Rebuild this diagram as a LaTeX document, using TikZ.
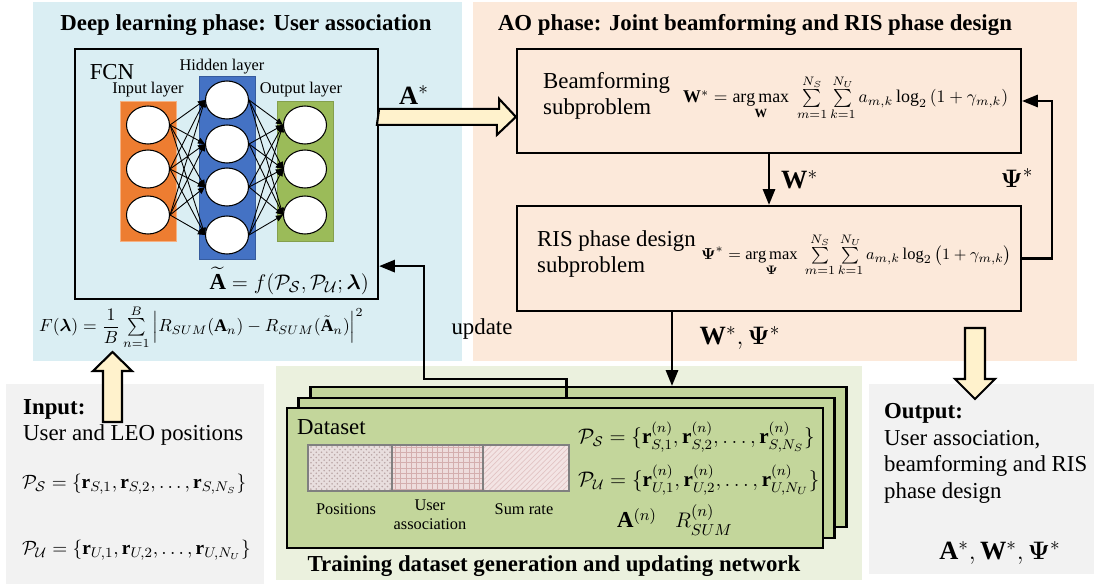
\documentclass[tikz,border=0pt]{standalone}
\usepackage{amsmath}
\usepackage{amssymb}
\usepackage{fontspec}
\setmainfont{Liberation Serif}
\usepackage{tikz}
\usepackage{xcolor}
\usetikzlibrary{calc,arrows.meta,shapes,patterns,positioning}

\definecolor{dlblue}{HTML}{DAEEF3}
\definecolor{aopeach}{HTML}{FCE9DA}
\definecolor{trgreen}{HTML}{EBF1DE}
\definecolor{iogray}{HTML}{F2F2F2}
\definecolor{cardgreen}{HTML}{C3D69B}
\definecolor{arrowfill}{HTML}{FFF2CC}
\definecolor{inorange}{HTML}{ED7D31}
\definecolor{hidblue}{HTML}{4472C4}
\definecolor{outgreen}{HTML}{9BBB59}
\definecolor{barA}{HTML}{E8DEDE}
\definecolor{barB}{HTML}{EEDCDC}
\definecolor{barC}{HTML}{F3E4E4}
\definecolor{dotA}{HTML}{B9A5A5}
\definecolor{gridB}{HTML}{D4AEAE}
\definecolor{lineC}{HTML}{E2C4C4}

\tikzset{
neuron/.style={ellipse, draw, line width=0.6pt, fill=white, minimum width=0.86cm, minimum height=0.76cm, inner sep=0pt},
link/.style={line width=0.5pt, -{Stealth[length=4pt,width=3.5pt,inset=0pt]}},
flow/.style={line width=1.2pt, -{Stealth[length=9pt,width=7pt,inset=0pt]}},
fatarr/.style={draw, line width=1.2pt, fill=arrowfill, line join=miter},
procbox/.style={draw, line width=1.3pt, minimum width=10.08cm},
card/.style={draw, line width=1.3pt, fill=cardgreen, minimum width=10.72cm, minimum height=2.8cm},
big/.style={font=\fontsize{13}{15.2}\selectfont},
eq/.style={font=\fontsize{11}{14}\selectfont, inner sep=1pt},
opt/.style={font=\fontsize{10.2}{12}\selectfont, inner sep=1pt},
small/.style={font=\fontsize{9.3}{11}\selectfont},
lbl/.style={font=\fontsize{15}{18}\selectfont},
ptitle/.style={font=\fontsize{13}{15.6}\selectfont\bfseries}
}

\begin{document}
\begin{tikzpicture}[x=0.02cm, y=-0.02cm]
\useasboundingbox (0,0) rectangle (1096,584);
\fill[dlblue] (33,2) rectangle (462,361);
\fill[aopeach] (473,2) rectangle (1077,361);
\fill[trgreen] (276,366) rectangle (862,580);
\fill[iogray] (6,384) rectangle (264,584);
\fill[iogray] (869,384) rectangle (1094,574);
\node[ptitle] (dltitle) at (246,25) {Deep learning phase: User association};
\node[ptitle] (aotitle) at (755,25) {AO phase: Joint beamforming and RIS phase design};
\node[ptitle] (trtitle) at (554,566) {Training dataset generation and updating network};
\node[draw, line width=1.3pt, minimum width=6.06cm, minimum height=5cm] (fcn) at (226.5,174) {};
\draw[fill=inorange, draw=inorange!60!white] (120,101) rectangle (176,241);
\draw[fill=hidblue, draw=hidblue!80!black] (199,76) rectangle (255,259);
\draw[fill=outgreen, draw=outgreen!85!black] (277,101) rectangle (333,241);
\foreach \y [count=\i] in {125,169,215} {
\node[neuron] (in\i) at (148,\y) {};
\node[neuron] (out\i) at (305,\y) {};
}
\foreach \y [count=\i] in {100,144,187,235}
\node[neuron] (hd\i) at (227,\y) {};
\foreach \i in {1,2,3} \foreach \j in {1,...,4} {
\draw[link] (in\i.east) -- (hd\j.west);
\draw[link] (hd\j.east) -- (out\i.west);
}
\node[big] (fcnlbl) at (112,72) {FCN};
\node[small] (inlbl) at (148,90) {Input layer};
\node[small] (hdlbl) at (222,67) {Hidden layer};
\node[small] (outlbl) at (301,90) {Output layer};
\node[big, anchor=east] (fout) at (375,281) {$\widetilde{\mathbf{A}}=f(\mathcal{P}_{\mathcal{S}},\mathcal{P}_{\mathcal{U}};\boldsymbol{\lambda})$};
\draw[fatarr] (103,422) -- (103,371) -- (93,371) -- (112.5,352) -- (132,371) -- (122,371) -- (122,422) -- cycle;
\node[eq, anchor=west, font=\fontsize{10}{12}\selectfont] (loss) at (37,327) {$F(\boldsymbol{\lambda})=\dfrac{1}{B}\sum\limits_{n=1}^{B}\Big|R_{SUM}(\mathbf{A}_n)-R_{SUM}(\tilde{\mathbf{A}}_n)\Big|^2$};
\node[procbox, minimum height=2.08cm] (bf) at (769,101) {};
\node[procbox, minimum height=2.1cm] (ris) at (769,258.5) {};
\node[big, align=left, anchor=west] (bftxt) at (537,96) {Beamforming\\subproblem};
\node[opt, anchor=west] (bfeq) at (681,98) {$\mathbf{W}^{*}=\mathop{\arg\max}\limits_{\mathbf{W}}\;\sum\limits_{m=1}^{N_S}\sum\limits_{k=1}^{N_U}a_{m,k}\log_2\left(1+\gamma_{m,k}\right)$};
\node[big, align=left, anchor=west] (ristxt) at (531,254) {RIS phase design\\subproblem};
\node[opt, anchor=west, font=\fontsize{9.4}{12}\selectfont] (riseq) at (699,255) {$\boldsymbol{\Psi}^{*}=\mathop{\arg\max}\limits_{\boldsymbol{\Psi}}\;\sum\limits_{m=1}^{N_S}\sum\limits_{k=1}^{N_U}a_{m,k}\log_2\left(1+\gamma_{m,k}\right)$};
\draw[fatarr] ($(fcn.north east)+(0,61)$) -- ++(120,0) -- ++(0,-10) -- ($(bf.north west)+(0,69)$) -- ++(-19,18) -- ++(0,-10) -- ++(-120,0) -- cycle;
\node[lbl] (alabel) at (414,95) {$\mathbf{A}^{*}$};
\draw[flow] (bf.south) -- (ris.north) node[midway, right=3pt, lbl] (wlabel) {$\mathbf{W}^{*}$};
\draw[flow] (ris.east) -- ++(30,0) |- (bf.east);
\node[lbl] (psilabel) at (1017,178) {$\boldsymbol{\Psi}^{*}$};
\draw[fatarr] (965,328) -- (985,328) -- (985,379) -- (995,379) -- (975,399) -- (955,379) -- (965,379) -- cycle;
\node[card] (card3) at (578.5,457) {};
\node[card] (card2) at (566.5,468) {};
\node[card] (card1) at (555,478) {};
\coordinate (wpsi) at (672,0);
\draw[flow] (ris.south -| wpsi) -- (card3.north -| wpsi);
\node[lbl] (wpsilabel) at (740,338) {$\mathbf{W}^{*},\boldsymbol{\Psi}^{*}$};
\coordinate (upd) at (424,379);
\draw[flow] (card2.north) |- (upd) |- ($(fcn.south east)+(0,-34)$);
\node[big] (updlbl) at (482,329) {update};
\node[big, anchor=west] (dslbl) at (291,427) {Dataset};
\fill[barA] (308,445) rectangle (392,491);
\fill[pattern=crosshatch dots, pattern color=dotA] (308,445) rectangle (392,491);
\fill[barB] (392,445) rectangle (483,491);
\fill[pattern=grid, pattern color=gridB] (392,445) rectangle (483,491);
\fill[barC] (483,445) rectangle (569,491);
\fill[pattern=north east lines, pattern color=lineC] (483,445) rectangle (569,491);
\draw[gray, line width=0.6pt] (308,445) rectangle (569,491);
\draw[gray, line width=0.6pt] (392,445) -- (392,491) (483,445) -- (483,491);
\node[small] (poslbl) at (346,509) {Positions};
\node[small, align=center] (ualbl) at (430,515) {User\\association};
\node[small] (srlbl) at (524,509) {Sum rate};
\node[eq, anchor=west, font=\fontsize{12}{14}\selectfont] (dps) at (576,437) {$\mathcal{P}_{\mathcal{S}}=\{\mathbf{r}^{(n)}_{S,1},\mathbf{r}^{(n)}_{S,2},\ldots,\mathbf{r}^{(n)}_{S,N_S}\}$};
\node[eq, anchor=west, font=\fontsize{12}{14}\selectfont] (dpu) at (576,480) {$\mathcal{P}_{\mathcal{U}}=\{\mathbf{r}^{(n)}_{U,1},\mathbf{r}^{(n)}_{U,2},\ldots,\mathbf{r}^{(n)}_{U,N_U}\}$};
\node[big] (dan) at (637,518) {$\mathbf{A}^{(n)}$};
\node[big] (drn) at (704,520) {$R^{(n)}_{SUM}$};
\node[big, align=left, anchor=north west] (intxt) at (17,393) {\textbf{Input:}\\User and LEO positions};
\node[eq, anchor=west] (inps) at (20,484) {$\mathcal{P}_{\mathcal{S}}=\{\mathbf{r}_{S,1},\mathbf{r}_{S,2},\ldots,\mathbf{r}_{S,N_S}\}$};
\node[eq, anchor=west] (inpu) at (20,550) {$\mathcal{P}_{\mathcal{U}}=\{\mathbf{r}_{U,1},\mathbf{r}_{U,2},\ldots,\mathbf{r}_{U,N_U}\}$};
\node[big, align=left, anchor=north west] (outtxt) at (878,397) {\textbf{Output:}\\User association,\\beamforming and RIS\\phase design};
\node[lbl] (outsym) at (1000,553) {$\mathbf{A}^{*},\mathbf{W}^{*},\boldsymbol{\Psi}^{*}$};
\end{tikzpicture}
\end{document}
